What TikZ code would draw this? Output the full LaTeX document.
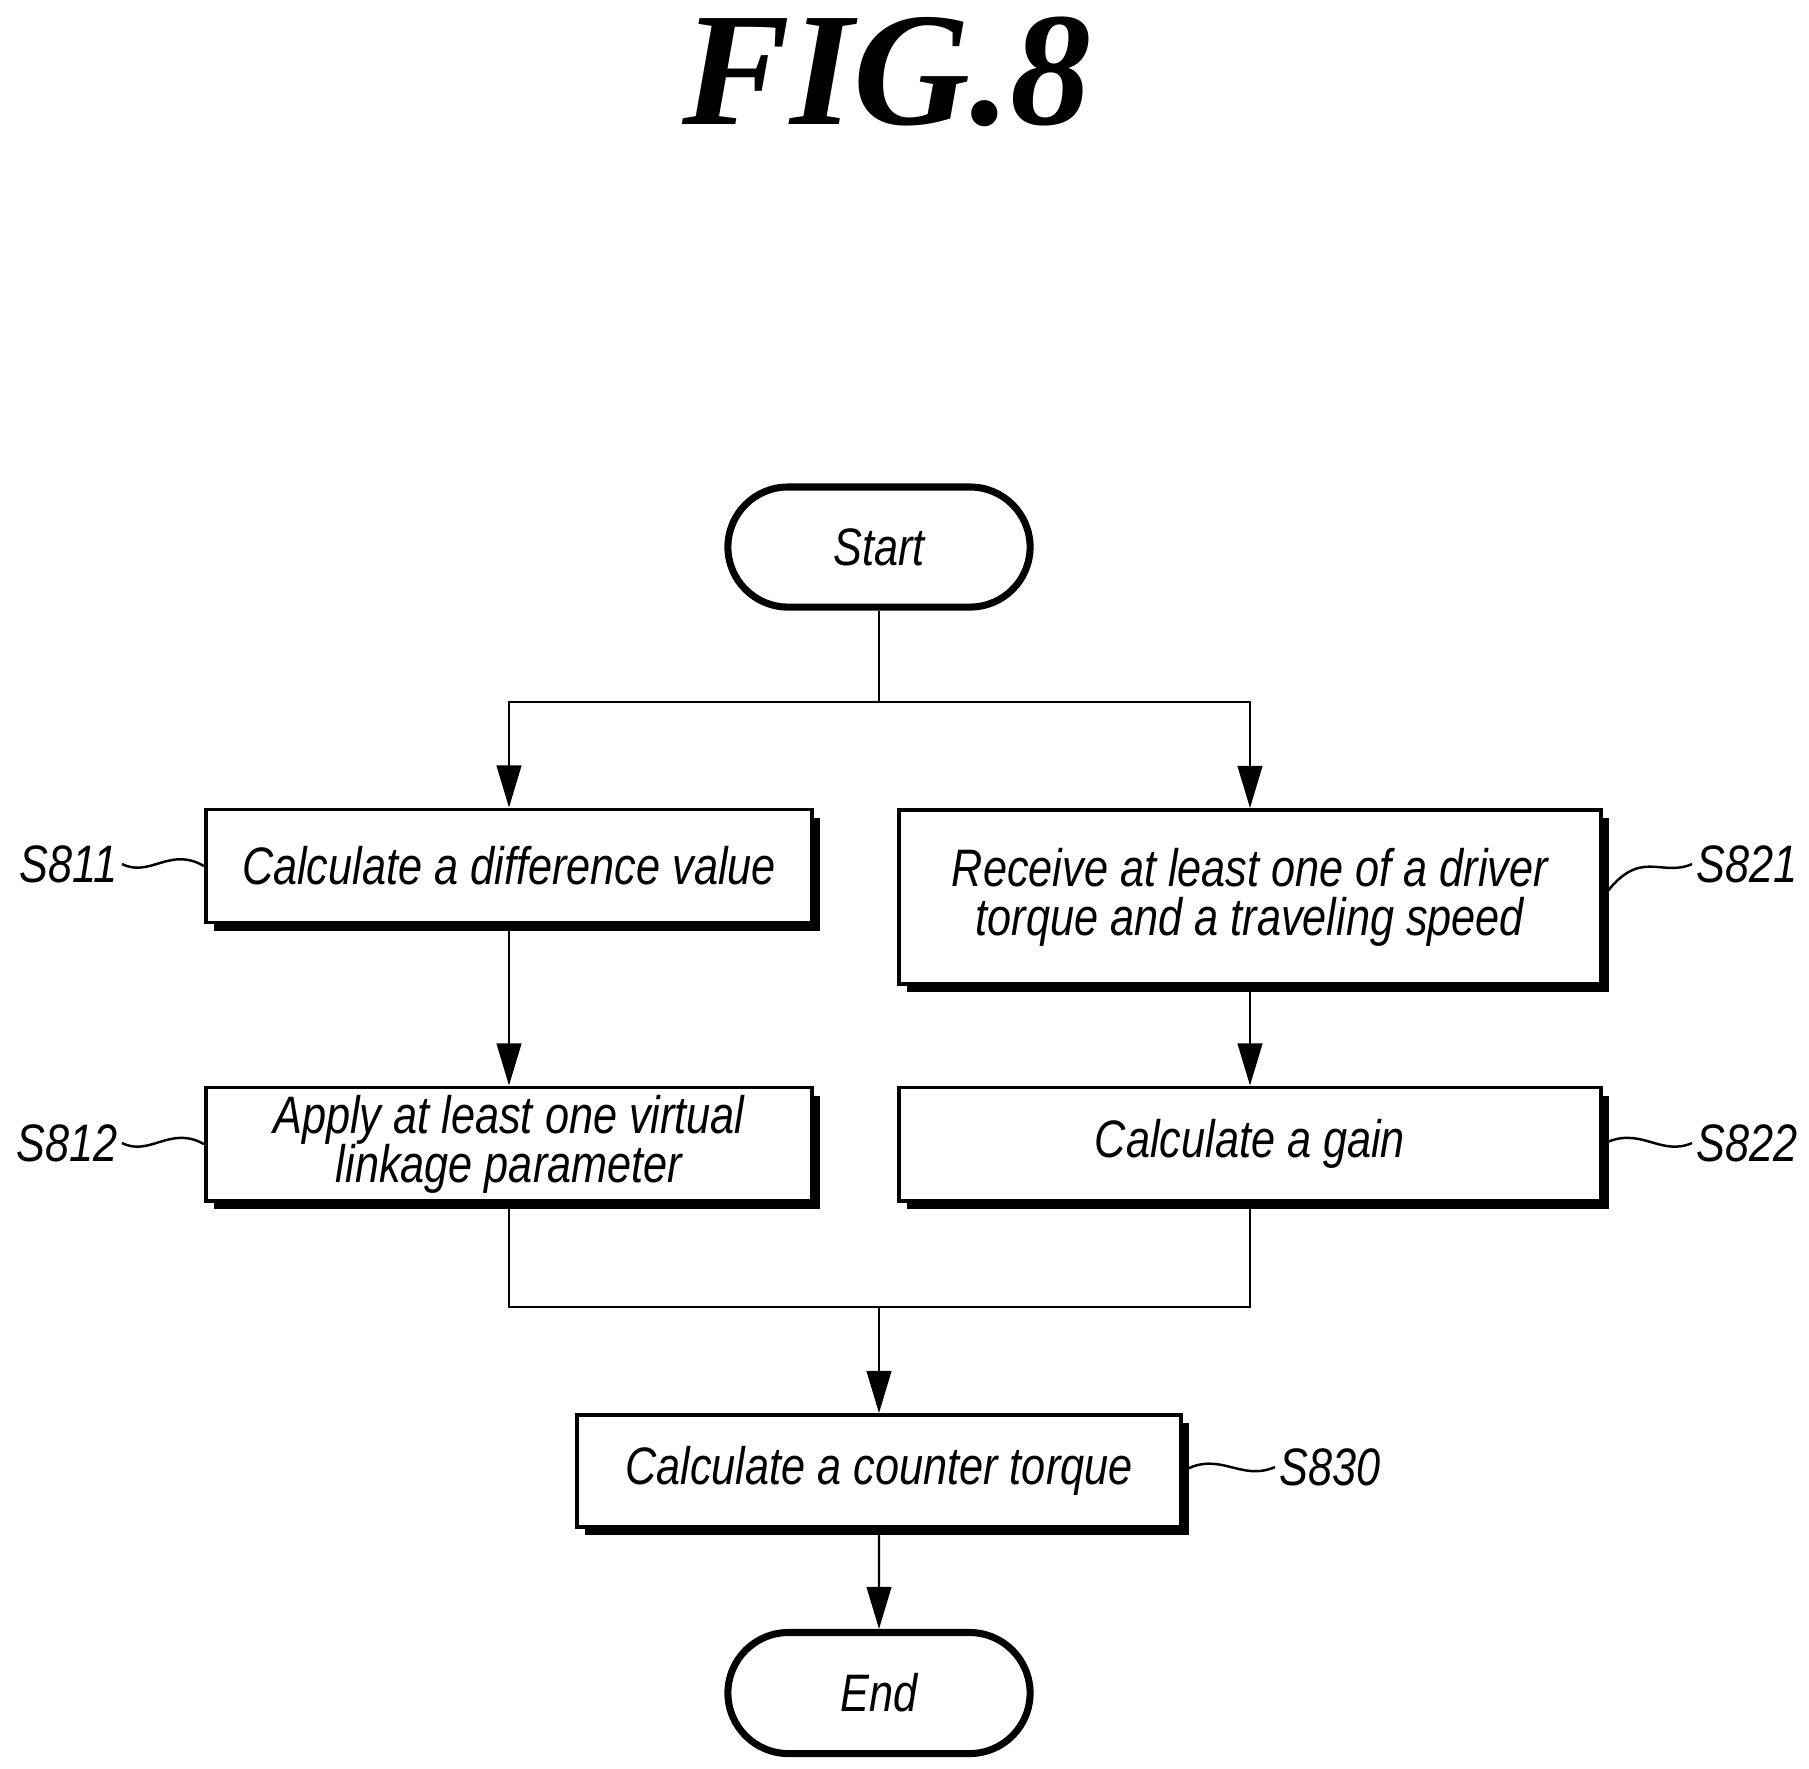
\documentclass[tikz,border=0pt]{standalone}
\usepackage{fontspec}
\setmainfont{Liberation Sans}
\newfontfamily\lab{Liberation Sans}[FakeStretch=0.82]
\newfontfamily\titlefont{Liberation Serif}
\usetikzlibrary{arrows.meta,shapes.misc}
\begin{document}
\begin{tikzpicture}[x=0.01cm,y=-0.01cm,
  txt/.style={font=\lab\itshape\fontsize{15}{14}\selectfont},
  box/.style={draw,line width=1.1pt,fill=white,inner sep=0pt,align=center,txt},
  term/.style={draw,line width=2pt,rounded rectangle,fill=white,inner sep=0pt,txt},
  lbl/.style={txt},
  conn/.style={line width=0.7pt},
  arr/.style={conn,-{Triangle[length=12pt,width=7pt]}}]
\useasboundingbox (0,0) rectangle (1809,1768);
\node[font=\titlefont\bfseries\itshape\fontsize{46}{46}\selectfont] (title) at (887,72) {FIG.8};
% shadows
\fill (214,818) rectangle (820,931);
\fill (907,818) rectangle (1609,992);
\fill (214,1096) rectangle (820,1209);
\fill (907,1096) rectangle (1609,1209);
\fill (585,1423) rectangle (1189,1535);
\node[term,minimum width=3.02cm,minimum height=1.2cm] (start) at (879,547) {Start};
\node[box,minimum width=6.06cm,minimum height=1.13cm] (s811) at (509,866) {Calculate a difference value};
\node[box,minimum width=7.02cm,minimum height=1.74cm] (s821) at (1250,897) {Receive at least one of a driver\\torque and a traveling speed};
\node[box,minimum width=6.06cm,minimum height=1.13cm] (s812) at (509,1144) {Apply at least one virtual\\linkage parameter};
\node[box,minimum width=7.02cm,minimum height=1.13cm] (s822) at (1250,1144) {Calculate a gain};
\node[box,minimum width=6.04cm,minimum height=1.12cm] (s830) at (879,1471) {Calculate a counter torque};
\node[term,minimum width=3.02cm,minimum height=1.21cm] (end) at (879,1693) {End};
\coordinate (split) at (879,702);
\coordinate (sl) at (509,702);
\coordinate (sr) at (1250,702);
\coordinate (ml) at (509,1307);
\coordinate (mr) at (1250,1307);
\coordinate (merge) at (879,1307);
\draw[conn] (start.south) -- (split);
\draw[arr] (split) -- (sl) -- (s811.north);
\draw[arr] (split) -- (sr) -- (s821.north);
\draw[arr] (s811) -- (s812);
\draw[arr] (s821) -- (s822);
\draw[conn] (s812.south) -- (ml) -- (mr) -- (s822.south);
\draw[arr] (merge) -- (s830.north);
\draw[arr] (s830) -- (end);
% labels
\node[lbl,anchor=east,inner sep=1pt] (l811) at (122,864) {S811};
\node[lbl,anchor=east,inner sep=1pt] (l812) at (122,1143) {S812};
\node[lbl,anchor=west,inner sep=1pt] (l821) at (1692,864) {S821};
\node[lbl,anchor=west,inner sep=1pt] (l822) at (1692,1143) {S822};
\node[lbl,anchor=west,inner sep=1pt] (l830) at (1275,1467) {S830};
\draw[conn] (l811.east) .. controls (150,878) and (170,846) .. (s811.west);
\draw[conn] (l812.east) .. controls (150,1157) and (170,1125) .. (s812.west);
\draw[conn] (s821.east) .. controls (1640,846) and (1660,878) .. (l821.west);
\draw[conn] (s822.east) .. controls (1640,1125) and (1660,1157) .. (l822.west);
\draw[conn] (s830.east) .. controls (1220,1450) and (1240,1482) .. (l830.west);
\end{tikzpicture}
\end{document}
